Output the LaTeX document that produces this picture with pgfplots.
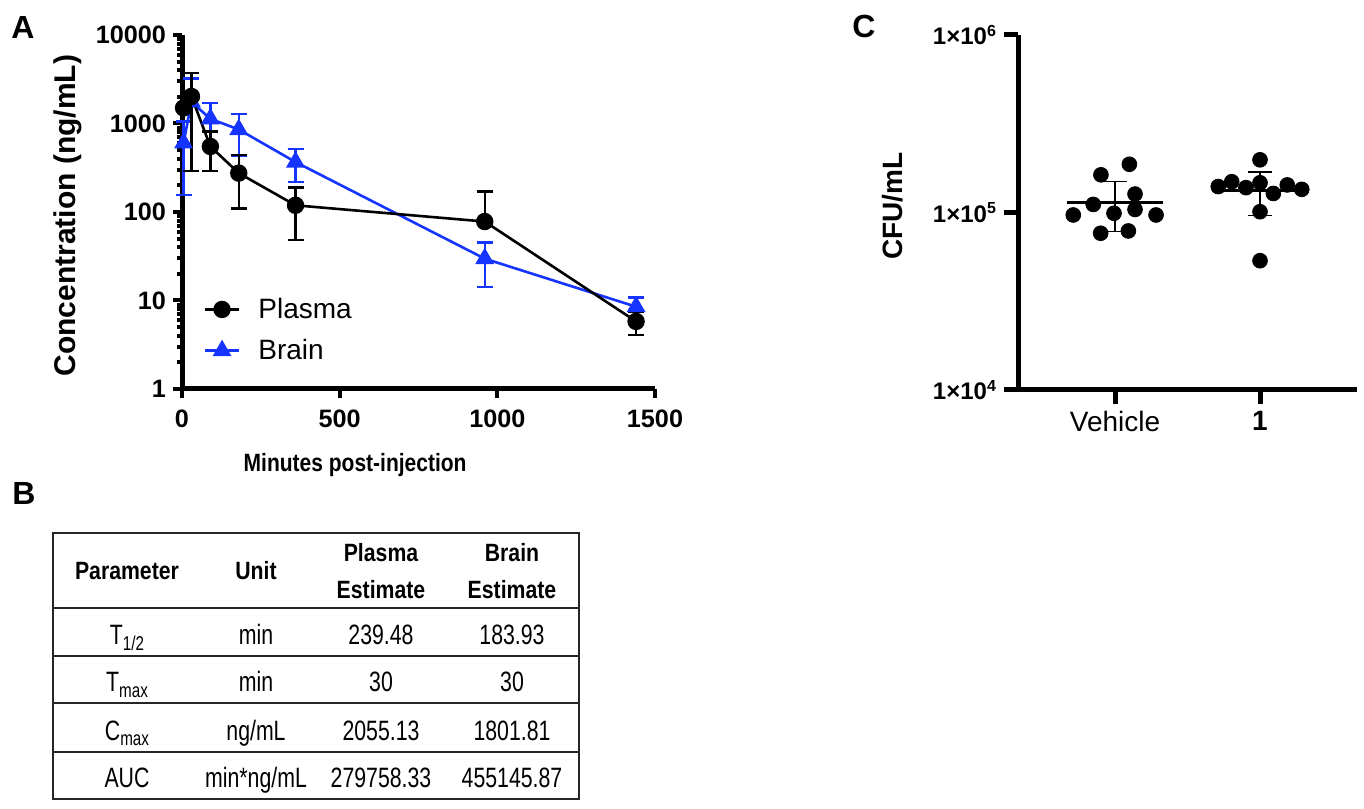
\documentclass[border=0pt]{standalone}
\usepackage{fontspec}
\setmainfont{Liberation Sans}
\newfontfamily\narrowfont[FakeStretch=0.84]{Liberation Sans}
\newfontfamily\headfont[FakeStretch=0.85]{Liberation Sans}
\newfontfamily\bodyfont[FakeStretch=0.76]{Liberation Sans}
\usepackage{pgfplots}
\pgfplotsset{compat=1.18}
\definecolor{brainblue}{RGB}{22,52,255}

\begin{document}
\begin{tikzpicture}
\path[use as bounding box] (0,0) rectangle (682pt,404pt);

% ---------- panel A: concentration vs time ----------
\begin{axis}[
    at={(91pt,209.5pt)}, anchor=south west,
    scale only axis, width=236.5pt, height=177pt,
    xmin=0, xmax=1500, ymin=1, ymax=10000, ymode=log,
    axis x line*=bottom, axis y line*=left,
    axis line style={line width=2.5pt, -},
    every tick/.style={black, line width=2pt},
    tick align=outside, major tick length=4.5pt, minor tick length=2.5pt,
    xtick={0,500,1000,1500}, xticklabels={0,500,1000,1500},
    ytick={1,10,100,1000,10000}, yticklabels={1,10,100,1000,10000},
    minor ytick={2,3,4,5,6,7,8,9,20,30,40,50,60,70,80,90,200,300,400,500,600,700,800,900,2000,3000,4000,5000,6000,7000,8000,9000},
    tick label style={font=\bfseries\fontsize{12.6}{12.6}\selectfont},
    xticklabel style={yshift=-2.5pt},
    xlabel={\narrowfont\bfseries Minutes post-injection},
    ylabel={Concentration (ng/mL)},
    every axis x label/.style={at={(axis description cs:0.366,-0.215)}, anchor=center, font=\fontsize{12.5}{12.5}\selectfont},
    every axis y label/.style={at={(axis description cs:-0.241,0.49)}, rotate=90, anchor=center, font=\bfseries\fontsize{15}{15}\selectfont},
    clip=false,
    reverse legend,
    legend cell align=left,
    legend style={at={(axis description cs:0.045,0.27)}, anchor=north west, draw=none, fill=none,
        inner sep=0pt, row sep=5pt, column sep=7pt, font=\fontsize{14}{14}\selectfont},
]
% Brain: error bars, then line and marks
\addplot[brainblue, only marks, mark=*, mark size=0.001pt, forget plot,
    error bars/.cd, y dir=both, y explicit, error mark=|,
    error bar style={line width=1.2pt},
    error mark options={brainblue, mark size=4pt, line width=1.2pt}]
    coordinates {
        (5,603) +- (0,447)
        (30,1750) +- (0,1460)
        (90,1130) +- (0,585)
        (180,855) +- (0,425)
        (360,367) +- (0,148)
        (960,29.7) +- (0,15.6)
        (1440,8.5) +- (0,2.3)
    };
\addplot[brainblue, line width=1.3pt, mark=triangle*, mark size=4.2pt]
    coordinates {
        (5,603) (30,1750) (90,1130) (180,855) (360,367) (960,29.7) (1440,8.5)
    };
\addlegendentry{Brain}
% Plasma: error bars, then line and marks
\addplot[black, only marks, mark=*, mark size=0.001pt, forget plot,
    error bars/.cd, y dir=both, y explicit, error mark=|,
    error bar style={line width=1.2pt},
    error mark options={black, mark size=4pt, line width=1.2pt}]
    coordinates {
        (30,2020) +- (0,1730)
        (90,550) +- (0,258)
        (180,275) +- (0,165)
        (360,119) +- (0,71)
        (1440,5.8) +- (0,1.75)
    };
\addplot[black, only marks, mark=*, mark size=0.001pt, forget plot,
    error bars/.cd, y dir=plus, y explicit, error mark=|,
    error bar style={line width=1.2pt},
    error mark options={black, mark size=4pt, line width=1.2pt}]
    coordinates {(960,78) +- (0,92)};
\addplot[black, line width=1.3pt, mark=*, mark size=3.7pt]
    coordinates {
        (5,1500) (30,2020) (90,550) (180,275) (360,119) (960,78) (1440,5.8)
    };
\addlegendentry{Plasma}
\end{axis}

% ---------- panel C: CFU per group ----------
\begin{axis}[
    at={(509pt,209pt)}, anchor=south west,
    scale only axis, width=169.5pt, height=177.5pt,
    xmin=0.331, xmax=2.669, ymin=1e4, ymax=1e6, ymode=log,
    axis x line*=bottom, axis y line*=left,
    axis line style={line width=2.5pt, -},
    every tick/.style={black, line width=2.5pt},
    tick align=outside, major tick length=7pt,
    xtick={1,2}, xticklabels={Vehicle,\textbf{1}},
    ytick={1e4,1e5,1e6},
    yticklabels={1×10\textsuperscript{4},1×10\textsuperscript{5},1×10\textsuperscript{6}},
    yminorticks=false,
    xticklabel style={font=\fontsize{14}{14}\selectfont},
    yticklabel style={font=\bfseries\fontsize{12}{12}\selectfont},
    ylabel={CFU/mL},
    every axis y label/.style={at={(axis description cs:-0.369,0.518)}, rotate=90, anchor=center, font=\bfseries\fontsize{14}{14}\selectfont},
    clip=false,
]
% mean lines
\addplot[black, line width=1.7pt] coordinates {(0.669,1.137e5) (1.331,1.137e5)};
\addplot[black, line width=1.7pt] coordinates {(1.669,1.33e5) (2.331,1.33e5)};
% SD bars
\addplot[black, only marks, mark=*, mark size=0.001pt,
    error bars/.cd, y dir=both, y explicit, error mark=|,
    error bar style={line width=0.9pt},
    error mark options={black, mark size=6.1pt, line width=0.9pt}]
    coordinates {(1,1.137e5) +- (0,0.356e5) (2,1.33e5) +- (0,0.369e5)};
% individual values
\addplot[black, only marks, mark=*, mark size=3.7pt]
    coordinates {
        (0.903,1.63e5) (1.099,1.87e5) (1.138,1.27e5) (0.850,1.11e5) (0.712,9.68e4)
        (0.993,9.9e4) (1.138,1.04e5) (1.283,9.68e4) (0.901,7.64e4) (1.092,7.87e4)
    };
\addplot[black, only marks, mark=*, mark size=3.7pt]
    coordinates {
        (2,1.98e5) (1.805,1.49e5) (1.712,1.40e5) (1.903,1.38e5) (2,1.47e5)
        (2.092,1.28e5) (2.188,1.43e5) (2.288,1.35e5) (2,1.01e5) (2,5.35e4)
    };
\end{axis}

% ---------- panel letters and table B ----------
\begin{scope}[x=0.5pt, y=0.5pt]
\node[font=\bfseries\fontsize{16}{16}\selectfont] at (23,780) {A};
\node[font=\bfseries\fontsize{16}{16}\selectfont] at (24,315) {B};
\node[font=\bfseries\fontsize{16}{16}\selectfont] at (864,782) {C};

\draw[line width=1pt, black!85] (53,9) rectangle (579,275);
\foreach \yy in {200,152,105,56} {
    \draw[line width=1pt, black!85] (53,\yy) -- (579,\yy);
}
\begin{scope}[every node/.style={anchor=base, inner sep=0pt}]
\node[font=\headfont\bfseries\fontsize{12.5}{12.5}\selectfont] at (127,228) {Parameter};
\node[font=\headfont\bfseries\fontsize{12.5}{12.5}\selectfont] at (256,228) {Unit};
\node[font=\headfont\bfseries\fontsize{12.5}{12.5}\selectfont] at (381,246) {Plasma};
\node[font=\headfont\bfseries\fontsize{12.5}{12.5}\selectfont] at (381,209) {Estimate};
\node[font=\headfont\bfseries\fontsize{12.5}{12.5}\selectfont] at (512,246) {Brain};
\node[font=\headfont\bfseries\fontsize{12.5}{12.5}\selectfont] at (512,209) {Estimate};

\node[font=\bodyfont\fontsize{14}{14}\selectfont] at (127,163) {T\raisebox{-0.4ex}{\fontsize{10}{10}\selectfont 1/2}};
\node[font=\bodyfont\fontsize{14}{14}\selectfont] at (256,163) {min};
\node[font=\bodyfont\fontsize{14}{14}\selectfont] at (381,163) {239.48};
\node[font=\bodyfont\fontsize{14}{14}\selectfont] at (512,163) {183.93};

\node[font=\bodyfont\fontsize{14}{14}\selectfont] at (127,116) {T\raisebox{-0.4ex}{\fontsize{10}{10}\selectfont max}};
\node[font=\bodyfont\fontsize{14}{14}\selectfont] at (256,116) {min};
\node[font=\bodyfont\fontsize{14}{14}\selectfont] at (381,116) {30};
\node[font=\bodyfont\fontsize{14}{14}\selectfont] at (512,116) {30};

\node[font=\bodyfont\fontsize{14}{14}\selectfont] at (127,68) {C\raisebox{-0.4ex}{\fontsize{10}{10}\selectfont max}};
\node[font=\bodyfont\fontsize{14}{14}\selectfont] at (256,68) {ng/mL};
\node[font=\bodyfont\fontsize{14}{14}\selectfont] at (381,68) {2055.13};
\node[font=\bodyfont\fontsize{14}{14}\selectfont] at (512,68) {1801.81};

\node[font=\bodyfont\fontsize{14}{14}\selectfont] at (127,21) {AUC};
\node[font=\bodyfont\fontsize{14}{14}\selectfont] at (256,21) {min*ng/mL};
\node[font=\bodyfont\fontsize{14}{14}\selectfont] at (381,21) {279758.33};
\node[font=\bodyfont\fontsize{14}{14}\selectfont] at (512,21) {455145.87};
\end{scope}
\end{scope}
\end{tikzpicture}
\end{document}
